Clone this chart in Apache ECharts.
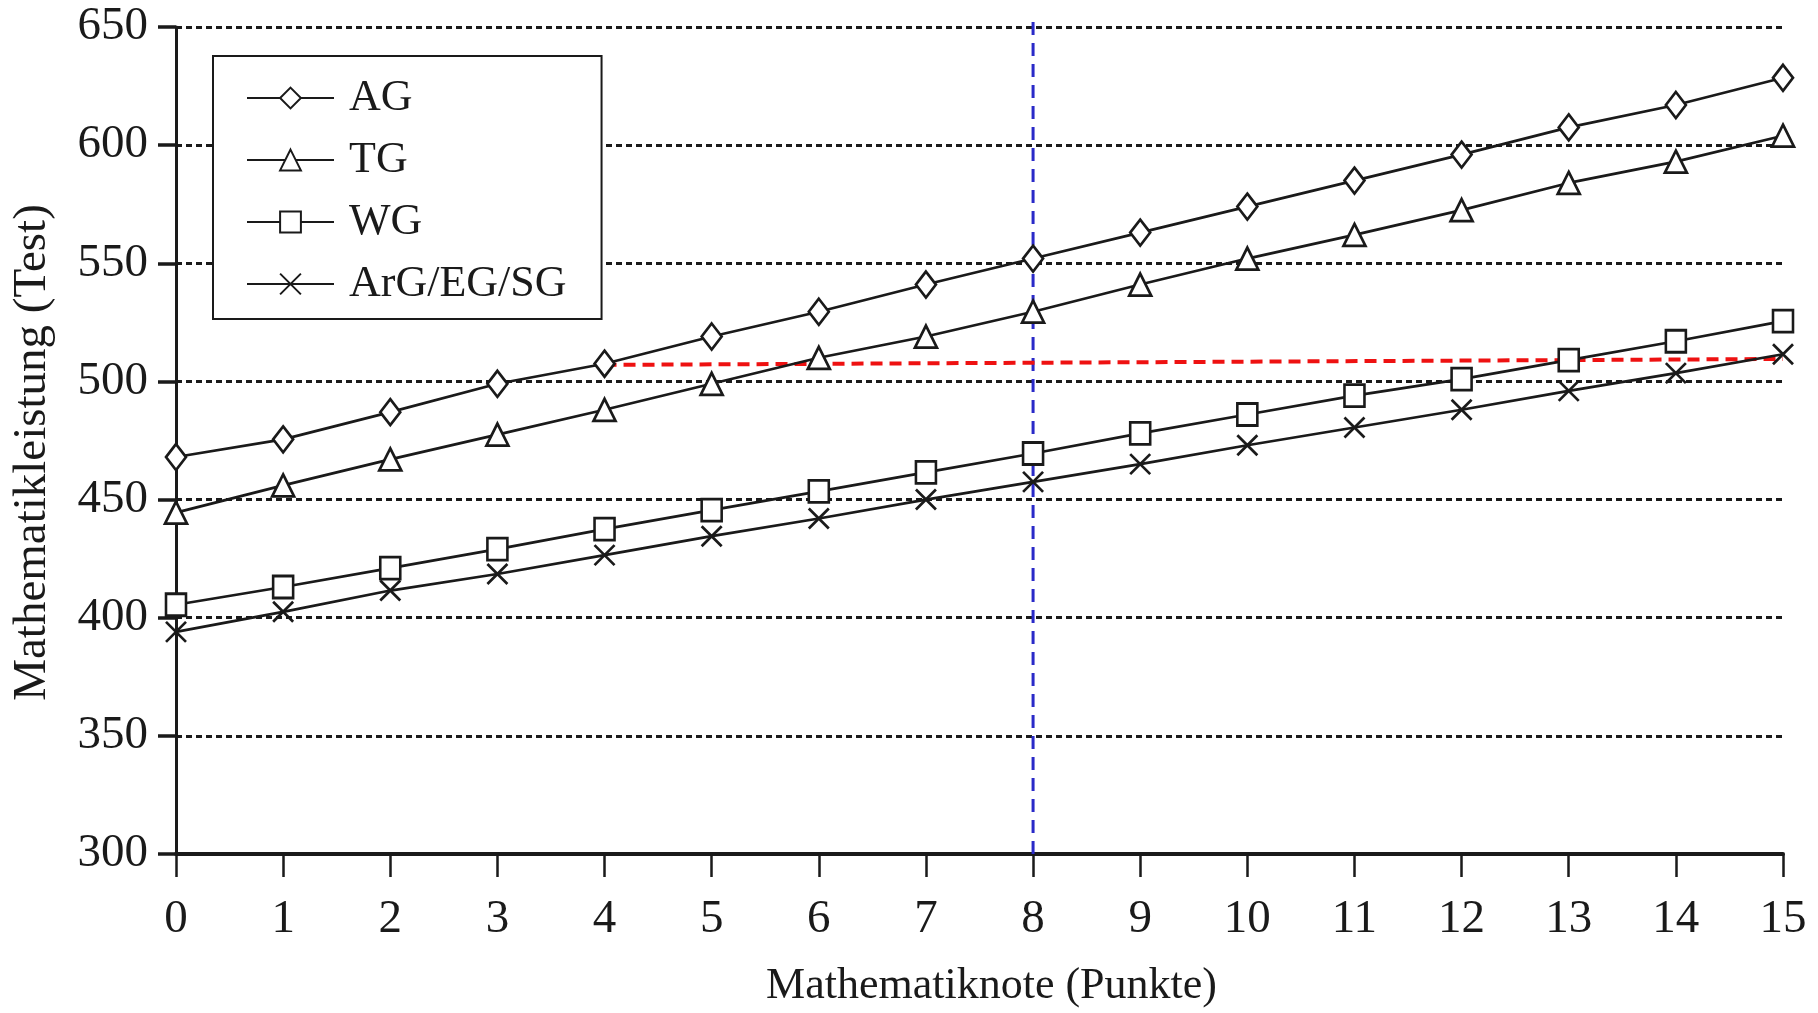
<!DOCTYPE html>
<html>
<head>
<meta charset="utf-8">
<script src="https://cdn.jsdelivr.net/npm/echarts@6/dist/echarts.min.js"></script>
<style>
  html, body { margin: 0; padding: 0; background: #fff; }
  #chart { width: 1818px; height: 1013px; }
</style>
</head>
<body>
<div id="chart"></div>
<script>
  var grades = [0, 1, 2, 3, 4, 5, 6, 7, 8, 9, 10, 11, 12, 13, 14, 15];
  var agValues = [468, 475.5, 487, 499, 507.5, 519, 529.5, 541, 552, 563, 574, 585, 596, 607.5, 617, 628.5];
  var tgValues = [444.5, 456, 467, 477.5, 488, 499, 510, 519, 529.5, 541, 552, 562, 572.5, 584, 593, 604];
  var wgValues = [405.5, 413, 421, 429, 437.5, 445.5, 453.5, 461.5, 469.5, 478, 486, 494, 501, 509, 517, 525.5];
  var argValues = [394, 402.5, 411.5, 418.5, 426.5, 434.5, 442, 450, 457.5, 465, 473, 480.5, 488, 496, 503.5, 511.5];
  var redGuide = [[4, 507], [15, 509.5]];
  var blueGuide = [[8, 300], [8, 654]];

  var font = 'Liberation Serif';
  var ink = '#1a1a1a';

  function pairs(vals) {
    return grades.map(function (g, i) { return [g, vals[i]]; });
  }

  function lineSeries(name, vals, symbol, size) {
    return {
      name: name,
      type: 'line',
      data: pairs(vals),
      symbol: symbol,
      symbolSize: size,
      showAllSymbol: true,
      z: 5,
      lineStyle: { color: ink, width: 2.7 },
      itemStyle: { color: '#fff', borderColor: ink, borderWidth: 2.7 },
      emphasis: { disabled: true }
    };
  }

  var chart = echarts.init(document.getElementById('chart'));
  var option = {
    animation: false,
    backgroundColor: '#fff',
    textStyle: { fontFamily: font, color: ink },
    grid: { left: 176, right: 35, top: 27, bottom: 154 },
    legend: {
      orient: 'vertical',
      left: 213,
      top: 56,
      padding: [20, 35, 13, 33],
      itemWidth: 87,
      itemHeight: 26,
      itemGap: 18,
      borderColor: ink,
      borderWidth: 2,
      backgroundColor: '#fff',
      textStyle: { fontFamily: font, fontSize: 44, color: ink, padding: [0, 0, 0, 10] },
      data: ['AG', 'TG', 'WG', 'ArG/EG/SG']
    },
    xAxis: {
      type: 'value',
      min: 0,
      max: 15,
      interval: 1,
      name: 'Mathematiknote (Punkte)',
      nameLocation: 'middle',
      nameGap: 110,
      nameTextStyle: { fontFamily: font, fontSize: 44, color: ink, padding: [0, 0, 0, 24] },
      axisLine: { lineStyle: { color: ink, width: 4 } },
      axisTick: { length: 23, lineStyle: { color: ink, width: 2.5 } },
      axisLabel: { fontFamily: font, fontSize: 47, color: ink, margin: 42 },
      splitLine: { show: false }
    },
    yAxis: {
      type: 'value',
      min: 300,
      max: 650,
      interval: 50,
      name: 'Mathematikleistung (Test)',
      nameLocation: 'middle',
      nameGap: 120,
      nameTextStyle: { fontFamily: font, fontSize: 47, color: ink, padding: [0, 24, 0, 0] },
      axisLine: { show: true, lineStyle: { color: ink, width: 3 } },
      axisTick: { show: true, length: 18, lineStyle: { color: ink, width: 3.5 } },
      axisLabel: { fontFamily: font, fontSize: 47, color: ink, margin: 28 },
      splitLine: { show: true, lineStyle: { color: ink, width: 3, type: [6, 4] } }
    },
    series: [
      lineSeries('AG', agValues, 'diamond', [20, 26]),
      lineSeries('TG', tgValues, 'triangle', [22, 22]),
      lineSeries('WG', wgValues, 'rect', [20, 22]),
      lineSeries('ArG/EG/SG', argValues, 'path://M0,0L10,10M10,0L0,10', [20, 20]),
      {
        type: 'line',
        data: redGuide,
        symbol: 'none',
        silent: true,
        z: 4,
        lineStyle: { color: '#ee1111', width: 4, type: [12, 7] }
      },
      {
        type: 'line',
        data: blueGuide,
        symbol: 'none',
        silent: true,
        clip: false,
        z: 3,
        lineStyle: { color: '#2a2ac8', width: 3, type: [13, 8] }
      }
    ]
  };
  chart.setOption(option);
</script>
</body>
</html>
